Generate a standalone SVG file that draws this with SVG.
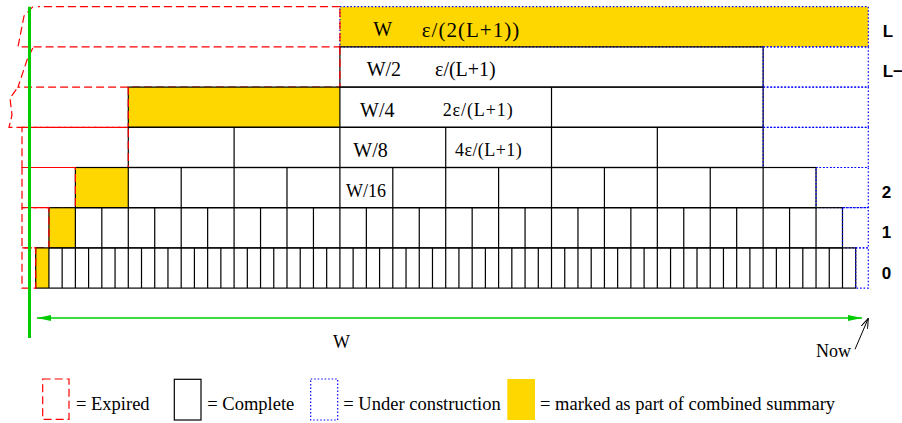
<svg xmlns="http://www.w3.org/2000/svg" width="902" height="423" viewBox="0 0 902 423">
<style>
.cell{fill:none;stroke:#000;stroke-width:1.2}
.mark{fill:#ffd700;stroke:none}
.exp{fill:none;stroke:#ff0000;stroke-width:1.2;stroke-dasharray:8 4}
.uc{fill:none;stroke:#0000ff;stroke-width:1.2;stroke-dasharray:1.5 2}
.lbl{font-family:"Liberation Serif","Times New Roman",serif;fill:#000}
.leg{font-family:"Liberation Serif","Times New Roman",serif;font-size:18.5px;fill:#000}
.lvl{font-family:"Liberation Sans",Arial,sans-serif;font-weight:bold;font-size:17px;fill:#000}
</style>
<defs>
<marker id="ga" viewBox="0 0 14 6" refX="14" refY="3" markerWidth="14" markerHeight="6" markerUnits="userSpaceOnUse" orient="auto-start-reverse"><path d="M0,0 L14,3 L0,6 Z" fill="#00cc00"/></marker>
<marker id="ba" viewBox="0 0 10 7" refX="10" refY="3.5" markerWidth="10" markerHeight="7" markerUnits="userSpaceOnUse" orient="auto"><path d="M0,0 L10,3.5 L0,7" fill="none" stroke="#000" stroke-width="1"/></marker>
</defs>
<rect width="902" height="423" fill="#fff"/>

<g id="level-L">
<rect class="mark" x="339.9" y="6.7" width="528.4" height="40.2"/>
<rect class="uc" x="339.9" y="6.7" width="528.4" height="40.2"/>
<path class="exp" d="M339.9 6.7H38M33 6.7L24 16L18 46.9H339.9V6.7"/>
<text class="lbl" x="373.3" y="36" font-size="20">W</text>
<text class="lbl" x="421.7" y="37" font-size="21" textLength="97.6" lengthAdjust="spacing">ε/(2(L+1))</text>
</g>

<g id="level-L-1">
<rect class="cell" x="339.9" y="46.9" width="423.23" height="40.2"/>
<rect class="uc" x="763.13" y="46.9" width="105.17" height="40.2"/>
<path class="exp" d="M339.9 46.9V87.1H18L27 60L33 47.5"/>
<text class="lbl" x="366.7" y="76" font-size="20">W/2</text>
<text class="lbl" x="435" y="76" font-size="20">ε/(L+1)</text>
</g>

<g id="level-L-2">
<rect class="mark" x="128.28" y="87.1" width="211.62" height="40.2"/>
<rect class="cell" x="128.28" y="87.1" width="634.85" height="40.2"/>
<path class="cell" d="M339.9 87.1v40.2M551.51 87.1v40.2"/>
<rect class="uc" x="763.13" y="87.1" width="105.17" height="40.2"/>
<path class="exp" d="M128.28 87.1V127.3H9L12 115L10 98L18 87.1"/>
<text class="lbl" x="360" y="116.5" font-size="20">W/4</text>
<text class="lbl" x="442.7" y="116" font-size="18" textLength="70" lengthAdjust="spacing">2ε/(L+1)</text>
</g>

<g id="level-3">
<rect class="cell" x="128.28" y="127.3" width="634.85" height="40.2"/>
<path class="cell" d="M234.09 127.3v40.2M339.9 127.3v40.2M445.71 127.3v40.2M551.51 127.3v40.2M657.32 127.3v40.2"/>
<rect class="uc" x="763.13" y="127.3" width="105.17" height="40.2"/>
<rect class="exp" x="22" y="127.3" width="106.28" height="40.2"/>
<text class="lbl" x="353.3" y="157" font-size="20">W/8</text>
<text class="lbl" x="455" y="155.5" font-size="18" textLength="66.7" lengthAdjust="spacing">4ε/(L+1)</text>
</g>

<g id="level-2">
<rect class="mark" x="75.38" y="167.5" width="52.9" height="40.2"/>
<rect class="cell" x="75.38" y="167.5" width="740.65" height="40.2"/>
<path class="cell" d="M128.28 167.5v40.2M181.19 167.5v40.2M234.09 167.5v40.2M286.99 167.5v40.2M339.9 167.5v40.2M392.8 167.5v40.2M445.71 167.5v40.2M498.61 167.5v40.2M551.51 167.5v40.2M604.42 167.5v40.2M657.32 167.5v40.2M710.23 167.5v40.2M763.13 167.5v40.2"/>
<rect class="uc" x="816.03" y="167.5" width="52.27" height="40.2"/>
<rect class="exp" x="22" y="167.5" width="53.38" height="40.2"/>
<text class="lbl" x="346" y="196.5" font-size="18">W/16</text>
</g>

<g id="level-1">
<rect class="mark" x="48.93" y="207.7" width="26.45" height="40.2"/>
<rect class="cell" x="48.93" y="207.7" width="793.56" height="40.2"/>
<path class="cell" d="M75.38 207.7v40.2M101.83 207.7v40.2M128.28 207.7v40.2M154.73 207.7v40.2M181.19 207.7v40.2M207.64 207.7v40.2M234.09 207.7v40.2M260.54 207.7v40.2M286.99 207.7v40.2M313.45 207.7v40.2M339.9 207.7v40.2M366.35 207.7v40.2M392.8 207.7v40.2M419.25 207.7v40.2M445.71 207.7v40.2M472.16 207.7v40.2M498.61 207.7v40.2M525.06 207.7v40.2M551.51 207.7v40.2M577.97 207.7v40.2M604.42 207.7v40.2M630.87 207.7v40.2M657.32 207.7v40.2M683.77 207.7v40.2M710.23 207.7v40.2M736.68 207.7v40.2M763.13 207.7v40.2M789.58 207.7v40.2M816.03 207.7v40.2"/>
<rect class="uc" x="842.49" y="207.7" width="25.81" height="40.2"/>
<rect class="exp" x="22" y="207.7" width="26.93" height="40.2"/>
</g>

<g id="level-0">
<rect class="mark" x="35.7" y="247.9" width="13.23" height="40.2"/>
<rect class="cell" x="35.7" y="247.9" width="820.01" height="40.2"/>
<path class="cell" d="M48.93 247.9v40.2M62.15 247.9v40.2M75.38 247.9v40.2M88.6 247.9v40.2M101.83 247.9v40.2M115.06 247.9v40.2M128.28 247.9v40.2M141.51 247.9v40.2M154.73 247.9v40.2M167.96 247.9v40.2M181.19 247.9v40.2M194.41 247.9v40.2M207.64 247.9v40.2M220.86 247.9v40.2M234.09 247.9v40.2M247.32 247.9v40.2M260.54 247.9v40.2M273.77 247.9v40.2M286.99 247.9v40.2M300.22 247.9v40.2M313.45 247.9v40.2M326.67 247.9v40.2M339.9 247.9v40.2M353.12 247.9v40.2M366.35 247.9v40.2M379.58 247.9v40.2M392.8 247.9v40.2M406.03 247.9v40.2M419.25 247.9v40.2M432.48 247.9v40.2M445.71 247.9v40.2M458.93 247.9v40.2M472.16 247.9v40.2M485.38 247.9v40.2M498.61 247.9v40.2M511.84 247.9v40.2M525.06 247.9v40.2M538.29 247.9v40.2M551.51 247.9v40.2M564.74 247.9v40.2M577.97 247.9v40.2M591.19 247.9v40.2M604.42 247.9v40.2M617.64 247.9v40.2M630.87 247.9v40.2M644.1 247.9v40.2M657.32 247.9v40.2M670.55 247.9v40.2M683.77 247.9v40.2M697 247.9v40.2M710.23 247.9v40.2M723.45 247.9v40.2M736.68 247.9v40.2M749.9 247.9v40.2M763.13 247.9v40.2M776.36 247.9v40.2M789.58 247.9v40.2M802.81 247.9v40.2M816.03 247.9v40.2M829.26 247.9v40.2M842.49 247.9v40.2"/>
<rect class="uc" x="855.71" y="247.9" width="12.59" height="40.2"/>
<rect class="exp" x="22" y="247.9" width="13.7" height="40.2"/>
</g>

<g id="level-labels">
<text class="lvl" x="882.7" y="37">L</text>
<text class="lvl" x="882.7" y="77">L−</text>
<text class="lvl" x="881.7" y="198">2</text>
<text class="lvl" x="881.7" y="238">1</text>
<text class="lvl" x="881.7" y="278.5">0</text>
</g>

<g id="time-axis">
<line x1="29.5" y1="6.7" x2="29.5" y2="338" stroke="#00cc00" stroke-width="3"/>
<text class="lbl" x="333" y="348" font-size="18">W</text>
<text class="lbl" x="816" y="357.3" font-size="18">Now</text>
</g>

<g id="connectors">
<line x1="37" y1="318" x2="862" y2="318" stroke="#00cc00" stroke-width="1.3" marker-start="url(#ga)" marker-end="url(#ga)"/>
<line x1="855" y1="349.3" x2="868.3" y2="318.3" stroke="#000" stroke-width="1" marker-end="url(#ba)"/>
</g>

<g id="legend">
<rect class="exp" x="42.7" y="379" width="26.3" height="40.3"/>
<text class="leg" x="76" y="410">= Expired</text>
<rect class="cell" x="174.3" y="379.3" width="26.7" height="40.7"/>
<text class="leg" x="207.3" y="410">= Complete</text>
<rect class="uc" x="310.7" y="379" width="27" height="41"/>
<text class="leg" x="343.3" y="410">= Under construction</text>
<rect class="mark" x="507.3" y="379" width="27.7" height="41"/>
<text class="leg" x="540" y="410">= marked as part of combined summary</text>
</g>
</svg>
